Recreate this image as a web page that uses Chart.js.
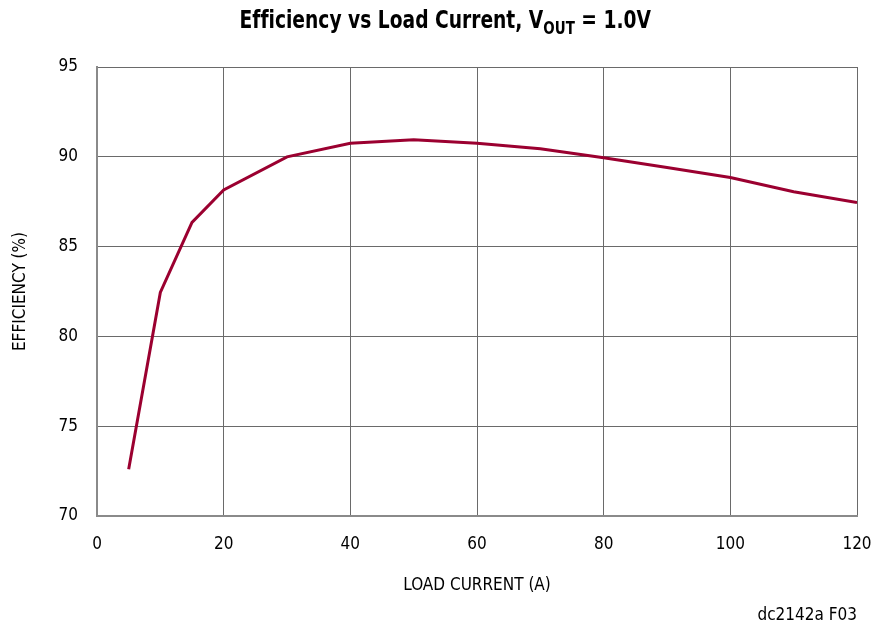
<!DOCTYPE html>
<html>
<head>
<meta charset="utf-8">
<script src="https://cdn.jsdelivr.net/npm/chart.js@4/dist/chart.umd.min.js"></script>
<style>
  html, body { margin: 0; padding: 0; background: #fff; }
  #wrap { position: relative; width: 873px; height: 629px; }
  #title {
    position: absolute; left: 0; top: 5px; width: 873px; text-align: center;
    font-family: 'Liberation Sans Narrow', 'DejaVu Sans Condensed', sans-serif;
    font-weight: bold; font-size: 25px; color: #000; white-space: nowrap;
    font-variant-ligatures: none;
    transform: scaleX(0.83); transform-origin: 488px 0;
  }
  #title sub { font-size: 18px; vertical-align: -6px; line-height: 0; }
  canvas { position: absolute; left: 0; top: 0; }
</style>
</head>
<body>
<div id="wrap">
  <canvas id="chart" width="873" height="629"></canvas>
  <div id="title">Efficiency vs Load Current, V<sub>OUT</sub> = 1.0V</div>
</div>
<script>
var FONT = "'Liberation Sans Narrow', 'DejaVu Sans Condensed', sans-serif";

// load current (A) and efficiency (%)
var loadCurrent = [5, 10, 15, 20, 30, 40, 50, 60, 70, 80, 90, 100, 110, 120];
var efficiency = [72.6, 82.45, 86.35, 88.15, 90.0, 90.75, 90.95, 90.75, 90.45, 89.95, 89.4, 88.85, 88.05, 87.45];

var xTicks = [0, 20, 40, 60, 80, 100, 120];
var yTicks = [70, 75, 80, 85, 90, 95];

var points = loadCurrent.map(function (x, i) { return { x: x, y: efficiency[i] }; });

// footnote in the lower right corner
var footnote = {
	id: 'footnote',
	afterDraw: function (chart) {
		var ctx = chart.ctx;
		ctx.save();
		ctx.font = '17px ' + FONT;
		ctx.fillStyle = '#000';
		ctx.textAlign = 'right';
		ctx.textBaseline = 'middle';
		ctx.fillText('dc2142a F03', chart.chartArea.right, 616);
		ctx.restore();
	}
};

new Chart(document.getElementById('chart'), {
	type: 'line',
	data: {
		datasets: [{
			data: points,
			borderColor: '#9b0030',
			borderWidth: 3,
			pointRadius: 0,
			tension: 0,
			fill: false
		}]
	},
	options: {
		responsive: false,
		animation: false,
		layout: { padding: { top: 67, right: 16, left: 0, bottom: 0 } },
		plugins: {
			legend: { display: false },
			tooltip: { enabled: false }
		},
		scales: {
			x: {
				type: 'linear',
				min: 0,
				max: 120,
				afterBuildTicks: function (scale) {
					scale.ticks = xTicks.map(function (v) { return { value: v }; });
				},
				afterFit: function (scale) {
					scale.height = 113;
					scale.paddingLeft = 0;
					scale.paddingRight = 0;
				},
				grid: { color: '#6a6a6a', lineWidth: 1, drawTicks: false },
				border: { color: '#8a8a8a', width: 2 },
				ticks: { color: '#000', padding: 18, font: { family: FONT, size: 17 } },
				title: {
					display: true,
					text: 'LOAD CURRENT (A)',
					color: '#000',
					font: { family: FONT, size: 17 },
					padding: { top: 20, bottom: 33 }
				}
			},
			y: {
				type: 'linear',
				min: 70,
				max: 95,
				afterBuildTicks: function (scale) {
					scale.ticks = yTicks.map(function (v) { return { value: v }; });
				},
				afterFit: function (scale) {
					scale.width = 97;
					scale.paddingTop = 0;
					scale.paddingBottom = 0;
				},
				grid: { color: '#6a6a6a', lineWidth: 1, drawTicks: false },
				border: { color: '#8a8a8a', width: 2 },
				ticks: { color: '#000', padding: 19, font: { family: FONT, size: 17 } },
				title: {
					display: true,
					text: 'EFFICIENCY (%)',
					color: '#000',
					font: { family: FONT, size: 17 },
					padding: { top: 10, bottom: 0 }
				}
			}
		}
	},
	plugins: [footnote]
});
</script>
</body>
</html>
